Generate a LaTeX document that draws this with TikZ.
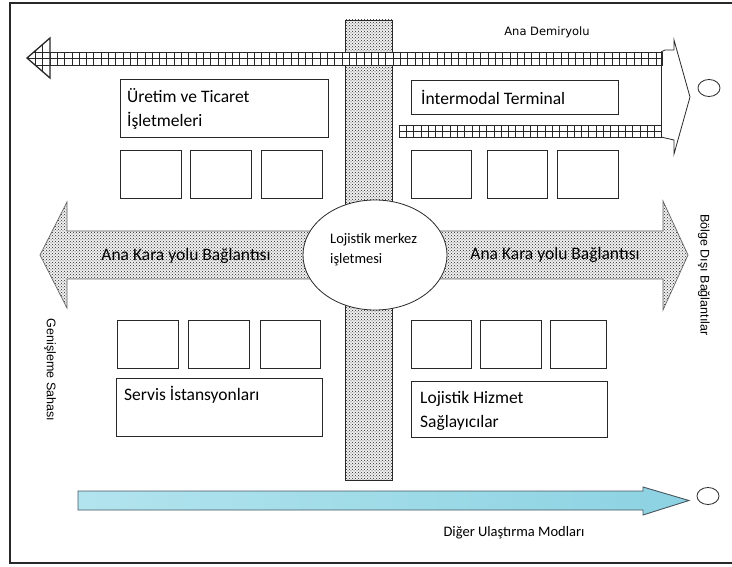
\documentclass[tikz,border=0pt]{standalone}
\usepackage{fontspec}
\setmainfont{Carlito}
\newfontfamily\dejavu{DejaVu Sans}
\newfontfamily\arialf{Liberation Sans}
\usetikzlibrary{patterns}
\definecolor{edge}{RGB}{40,40,40}
\definecolor{cyanA}{RGB}{178,228,238}
\definecolor{cyanB}{RGB}{140,210,226}
\definecolor{cyanEdge}{RGB}{70,85,95}
\tikzset{
  sbox/.style={draw=edge, line width=0.8pt, fill=white, inner sep=0pt},
  boxtext/.style={inner sep=0pt, anchor=west, align=left, font=\fontsize{17.5}{24}\selectfont},
  dots/.style={pattern=crosshatch dots, pattern color=black!85},
  railline/.style={draw=edge, line width=0.7pt},
}
\begin{document}
\begin{tikzpicture}[x=1pt,y=-1pt]
\useasboundingbox (0,0) rectangle (732,567);
\fill[white] (0,0) rectangle (732,567);
% frame
\draw[line width=1.5pt, edge] (732,3) -- (10,3) -- (10,563) -- (732,563);

% vertical dotted bar
\fill[gray!12] (345,20) rectangle (392,480);
\draw[dots, draw=edge, line width=0.7pt] (345,20) rectangle (392,480);

% road arrows
\fill[gray!12] (40,255) -- (67,202) -- (67,231) -- (360,231) -- (360,279) -- (67,279) -- (67,308) -- cycle;
\draw[dots, draw=black!60, line width=0.7pt] (40,255) -- (67,202) -- (67,231) -- (360,231) -- (360,279) -- (67,279) -- (67,308) -- cycle;
\fill[gray!12] (390,231) -- (663,231) -- (663,201) -- (688,255) -- (663,310) -- (663,279) -- (390,279) -- cycle;
\draw[dots, draw=black!60, line width=0.7pt] (390,231) -- (663,231) -- (663,201) -- (688,255) -- (663,310) -- (663,279) -- (390,279) -- cycle;

% central ellipse
\draw[fill=white, draw=edge, line width=0.8pt] (375,255) ellipse [x radius=72, y radius=55];
\node[inner sep=0pt, anchor=west, align=left, font=\fontsize{14.5}{20}\selectfont] (lm) at (330,250) {Lojistik merkez\\işletmesi};

% road labels
\node[inner sep=0pt, font=\fontsize{17.5}{24}\selectfont] (rl) at (186,256) {Ana Kara yolu Bağlantısı};
\node[inner sep=0pt, font=\fontsize{17.5}{24}\selectfont] (rr) at (555,255) {Ana Kara yolu Bağlantısı};

% upper rail track
\fill[white] (50,52) rectangle (662,65);
\draw[railline] (50,52) rectangle (662,65);
\draw[railline] (50,58.5) -- (662,58.5);
\foreach \i in {0,...,83} \draw[railline] ({50+7.3*\i},52) -- ++(0,13);
% left arrow head of rail
\fill[white] (50,38) -- (27,58) -- (50,78) -- cycle;
\begin{scope}
  \clip (50,38) -- (27,58) -- (50,78) -- cycle;
  \draw[railline] (20,52) -- (50,52);
  \draw[railline] (20,58.5) -- (50,58.5);
  \draw[railline] (20,65) -- (50,65);
  \foreach \i in {1,...,3} \draw[railline] ({50-7.3*\i},30) -- ++(0,60);
\end{scope}
\draw[edge, line width=1.3pt, line join=miter] (50,38) -- (27,58) -- (50,78) -- cycle;

% lower rail track
\fill[white] (399,125) rectangle (661,137);
\draw[railline] (399,125) rectangle (661,137);
\draw[railline] (399,131) -- (661,131);
\foreach \i in {0,...,35} \draw[railline] ({399+7.3*\i},125) -- ++(0,12);

% right arrow head of rail
\draw[edge, line width=0.8pt] (661,52) -- (661,137);
\draw[edge, line width=0.8pt] (661,52) -- (665,50) -- (674,50) -- (674,40) -- (690,97) -- (674,154) -- (674,140) -- (661,137);
\draw[edge, line width=0.8pt] (709,88) ellipse [x radius=11, y radius=8.5];
\node[inner sep=0pt, font=\dejavu\fontsize{11.5}{14}\selectfont] (ad) at (547,32) {Ana Demiryolu};

% upper boxes
\node[sbox, minimum width=208pt, minimum height=58pt] (ut) at (224,108) {};
\node[boxtext] (utt) at (127,109) {Üretim ve Ticaret\\İşletmeleri};
\node[sbox, minimum width=207pt, minimum height=34pt] (it) at (514.5,97) {};
\node[boxtext] (itt) at (421,97) {İntermodal Terminal};

% small boxes upper row
\node[sbox, minimum width=61pt, minimum height=48pt] (a1) at (150.5,174) {};
\node[sbox, minimum width=61pt, minimum height=48pt] (a2) at (220.5,174) {};
\node[sbox, minimum width=61pt, minimum height=48pt] (a3) at (292,174) {};
\node[sbox, minimum width=60pt, minimum height=48pt] (b1) at (441,174) {};
\node[sbox, minimum width=60pt, minimum height=48pt] (b2) at (517,174) {};
\node[sbox, minimum width=61pt, minimum height=48pt] (b3) at (587.5,174) {};

% small boxes lower row
\node[sbox, minimum width=61pt, minimum height=48pt] (c1) at (147.5,344) {};
\node[sbox, minimum width=61pt, minimum height=48pt] (c2) at (218.5,344) {};
\node[sbox, minimum width=60pt, minimum height=48pt] (c3) at (290,344) {};
\node[sbox, minimum width=60pt, minimum height=48pt] (d1) at (441,344) {};
\node[sbox, minimum width=61pt, minimum height=48pt] (d2) at (510.5,344) {};
\node[sbox, minimum width=56pt, minimum height=48pt] (d3) at (578.5,344) {};

% lower boxes
\node[sbox, minimum width=206pt, minimum height=58pt] (sv) at (219,407) {};
\node[boxtext] (svt) at (124,395) {Servis İstansyonları};
\node[sbox, minimum width=196pt, minimum height=56pt] (lh) at (509,409) {};
\node[boxtext] (lht) at (420,410.5) {Lojistik Hizmet\\Sağlayıcılar};

% bottom arrow
\draw[left color=cyanA, right color=cyanB, draw=cyanEdge, line width=0.9pt] (78,491) -- (643,491) -- (643,487) -- (689,500.5) -- (643,515) -- (643,510) -- (78,510) -- cycle;
\draw[edge, line width=0.8pt] (708,496) ellipse [x radius=11, y radius=8.5];
\node[inner sep=0pt, font=\fontsize{14.5}{18}\selectfont] (du) at (514,533) {Diğer Ulaştırma Modları};

% rotated labels
\node[inner sep=0pt, rotate=-90, font=\arialf\fontsize{12.5}{15}\selectfont] (gs) at (50,370) {Genişleme Sahası};
\node[inner sep=0pt, rotate=-90, font=\arialf\fontsize{12.5}{15}\selectfont] (bd) at (704,275) {Bölge Dışı Bağlantılar};
\end{tikzpicture}
\end{document}
